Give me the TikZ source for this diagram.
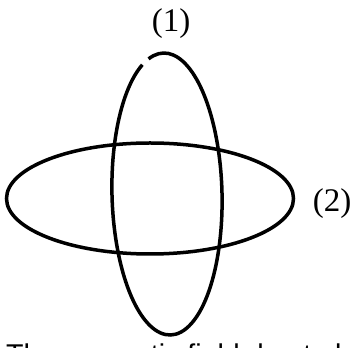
\documentclass[tikz,border=0pt]{standalone}
\usepackage{fontspec}
\setmainfont{Liberation Serif}
\newfontfamily\captionfont{Liberation Sans}
\begin{document}
\begin{tikzpicture}[x=1pt,y=1pt,
  loopline/.style={line width=3.5pt},
  lbl/.style={inner sep=0pt,font=\fontsize{33}{36}\selectfont},
  captext/.style={inner sep=0pt,anchor=base west,font=\captionfont\fontsize{28.6}{30}\selectfont}]
\useasboundingbox (0,0) rectangle (355,347);
\clip (0,0) rectangle (355,347);
\coordinate (cv) at (167,153);
\coordinate (ch) at (150,148.5);
% loop (1): vertical ellipse with a small gap at upper left
\draw[loopline,rotate around={1.4:(cv)}] ([shift={(113:55 and 141)}]cv)
  arc[start angle=113, end angle=466, x radius=55, y radius=141];
% loop (2): horizontal ellipse
\draw[loopline] (ch) ellipse[x radius=143.5, y radius=55.5];
\node[lbl] (l1) at (171,323) {(1)};
\node[lbl] (l2) at (332,143.5) {(2)};
\node[captext] (t) at (6,-17) {The magnetic field due to loop};
\end{tikzpicture}
\end{document}
